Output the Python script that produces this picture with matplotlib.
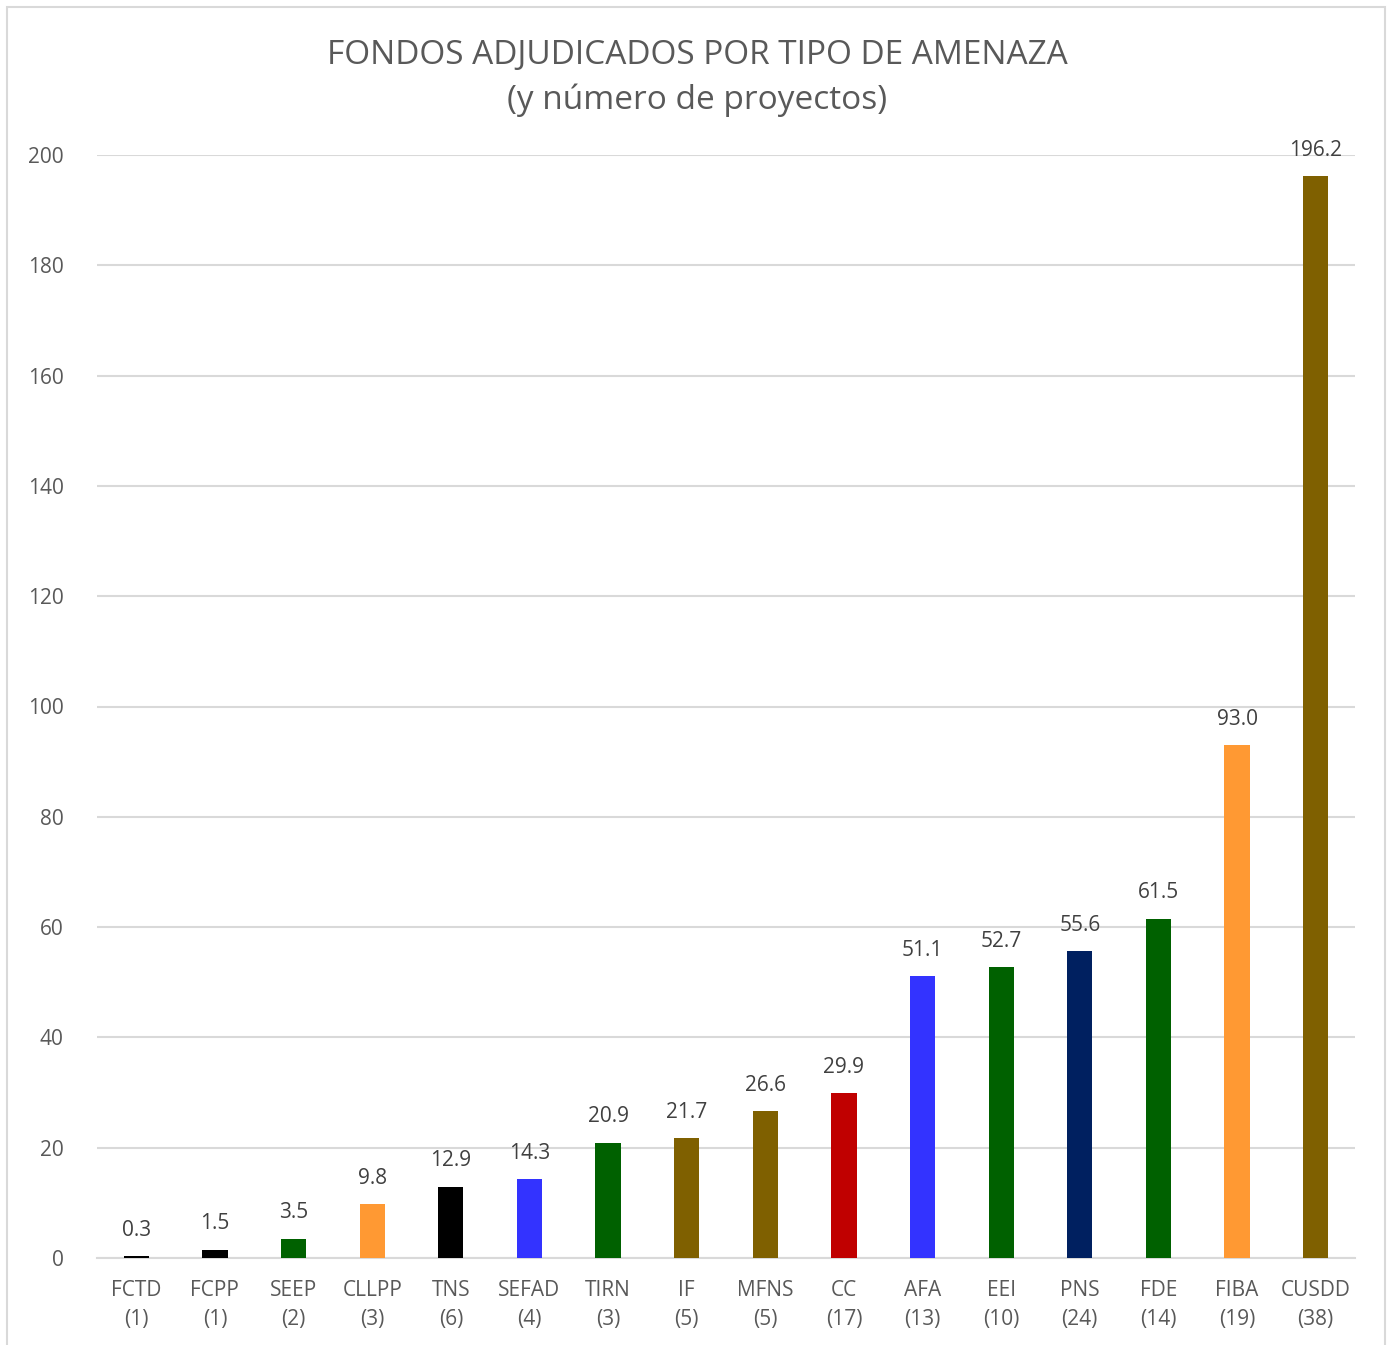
import matplotlib.pyplot as plt
from matplotlib.patches import Rectangle

codes = ["FCTD", "FCPP", "SEEP", "CLLPP", "TNS", "SEFAD", "TIRN", "IF",
         "MFNS", "CC", "AFA", "EEI", "PNS", "FDE", "FIBA", "CUSDD"]
projects = [1, 1, 2, 3, 6, 4, 3, 5, 5, 17, 13, 10, 24, 14, 19, 38]
funds = [0.3, 1.5, 3.5, 9.8, 12.9, 14.3, 20.9, 21.7, 26.6, 29.9,
         51.1, 52.7, 55.6, 61.5, 93.0, 196.2]
colors = ["#000000", "#000000", "#006100", "#FF9933", "#000000", "#3333FF",
          "#006100", "#7F6000", "#7F6000", "#C00000", "#3333FF", "#006100",
          "#002060", "#006100", "#FF9933", "#7F6000"]

plt.rcParams['font.family'] = ['Open Sans', 'DejaVu Sans']
txt = "#595959"

fig = plt.figure(figsize=(13.91, 13.45), dpi=100)
fig.patches.append(Rectangle((7 / 1391, -0.01), 1378 / 1391, 1 - 7 / 1345 + 0.01,
                             transform=fig.transFigure, fill=False,
                             edgecolor="#D9D9D9", linewidth=1.5))
ax = fig.add_axes([97 / 1391, 87 / 1345, 1258 / 1391, 1103 / 1345])

x = range(len(codes))
bars = ax.bar(x, funds, width=0.32, color=colors, zorder=3)
for b, v in zip(bars, funds):
    ax.text(b.get_x() + b.get_width() / 2, v + 2.8, f"{v:.1f}", ha="center",
            va="bottom", fontsize=15, color="#404040")

ax.set_xlim(-0.5, len(codes) - 0.5)
ax.set_ylim(0, 200)
ax.set_yticks(range(0, 201, 20))
ax.set_xticks(list(x))
ax.set_xticklabels([f"{c}\n({n})" for c, n in zip(codes, projects)],
                   fontsize=15, color=txt, linespacing=1.5)
ax.tick_params(axis="y", labelsize=15, labelcolor=txt, length=0, pad=24)
ax.tick_params(axis="x", length=0, pad=16)
ax.grid(axis="y", color="#D9D9D9", linewidth=1.5, zorder=0)
for s in ["top", "right", "left"]:
    ax.spines[s].set_visible(False)
ax.spines["bottom"].set_color("#D9D9D9")
ax.spines["bottom"].set_linewidth(1.5)

fig.text(697 / 1391, 1 - 55 / 1345, "FONDOS ADJUDICADOS POR TIPO DE AMENAZA",
         ha="center", va="center", fontsize=24, color=txt)
fig.text(697 / 1391, 1 - 100 / 1345, "(y número de proyectos)",
         ha="center", va="center", fontsize=24, color=txt)

fig.savefig("out.png", dpi=100)
